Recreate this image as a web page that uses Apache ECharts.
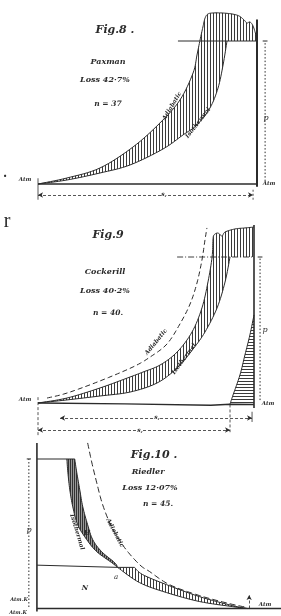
<!DOCTYPE html>
<html><head><meta charset="utf-8">
<script src="https://cdn.jsdelivr.net/npm/echarts@6/dist/echarts.min.js"></script>
<style>html,body{margin:0;padding:0;background:#fff}#c{width:281px;height:616px}</style>
</head><body><div id="c"></div>
<script>
// Units: x = % of piston stroke, y = % of delivery pressure p (0 = atmosphere)

// ---- Fig. 8  Paxman ----
const fig8Adiabatic  = [[0,0],[13.2,4.2],[28.3,11.2],[43.4,25.9],[55.7,42.7],[64.8,58.7],[70.8,77.6],[72.6,90.2],[74.0,100.7],[75.3,109.8],[76.3,116.1]];
const fig8Delivery   = [[77.6,118.9],[79.9,119.6],[84.0,119.6],[88.6,118.9],[91.8,117.5],[94.1,114.7],[95.4,112.6],[96.8,113.3],[98.2,110.5],[99.5,104.2],[100,100]];
const fig8Isothermal = [[0,0],[13.2,2.8],[28.3,7.7],[42.0,13.3],[57.1,24.5],[66.2,34.3],[72.6,41.3],[78.5,53.1],[82.2,67.1],[84.5,83.2],[86.3,100]];

// ---- Fig. 9  Cockerill ----
const fig9Actual     = [[0,0],[13.4,3.4],[28.7,10.3],[42.6,17.8],[48.6,21.2],[56.5,26.0],[64.4,34.9],[71.3,48.6],[75.9,65.1],[78.7,82.9],[80.6,100],[81.0,111.6],[81.5,115.1]];
const fig9Delivery   = [[83.3,116.4],[85.2,114.4],[86.6,117.1],[91.2,119.2],[95.8,119.9],[100,120.5]];
const fig9Isothermal = [[0,0],[13.4,2.1],[28.7,4.8],[42.6,7.5],[55.1,13.7],[64.4,24.0],[71.8,37.0],[77.3,48.6],[82.9,65.1],[86.6,82.9],[88.9,100]];
const fig9Adiabatic  = [[4.2,3.4],[13.4,6.8],[28.7,15.1],[44.0,24.7],[51.9,31.5],[59.7,40.4],[65.7,54.1],[70.4,67.8],[73.6,82.2],[75.9,97.9],[77.3,111.6],[78.2,119.9]];
const fig9Expansion  = [[88.9,-0.7],[90.3,5.5],[93.5,19.2],[95.8,32.9],[98.1,46.6],[100,60.3]];
const fig9Base       = [[0,0],[40,-0.6],[80,-1.5],[88.9,-0.9],[100,-1]];

// ---- Fig. 10  Riedler (two-stage) ----
const fig10IsothermalH = [[14.1,100],[14.6,90.7],[15.5,79.3],[16.9,68],[19.2,56],[23.5,46],[28.2,38],[35.2,30.7],[38.0,27.5]];
const fig10IsothermalN = [[38.0,27.5],[48.4,17.3],[61.0,10.7],[76.5,4.7],[92.0,1.3],[99.1,0]];
const fig10ActualH     = [[17.8,100],[18.8,90.7],[20.2,79.3],[21.6,68],[23.9,56],[26.3,46],[30.5,38],[36.6,30.7],[38.0,27.5]];
const fig10ActualN     = [[46.0,27.5],[49.8,22.7],[61.0,16],[76.5,8],[92.0,2],[99.1,0]];
const fig10Adiabatic   = [[23.9,110.7],[25.8,98],[28.2,84],[31,69.3],[35.2,54.7],[41.3,40.7],[48.4,29.3],[53.1,24.7],[62.4,16],[76.5,8.7],[90.6,3.3],[99.1,0.7]];
const fig10Intercool   = [[0,29],[38,27.5],[46,27.5]];

const INK = '#2b2b2b';

function hatchCanvas(dir, gap, ink, bg){
  const c = document.createElement('canvas'); c.width = gap; c.height = gap;
  const x = c.getContext('2d');
  if (bg){ x.fillStyle = bg; x.fillRect(0,0,gap,gap); }
  x.fillStyle = ink;
  if (dir === 'v') x.fillRect(0,0,1,gap); else x.fillRect(0,0,gap,1);
  return c;
}
const vHatch = {image: hatchCanvas('v',3,'#3a3a3a',null), repeat:'repeat'};
const hHatch = {image: hatchCanvas('h',3,'#3a3a3a',null), repeat:'repeat'};
const darkHatch = {image: hatchCanvas('v',2,'#333','#999'), repeat:'repeat'};

// Catmull-Rom smoothing of already-projected pixel points (drawing only)
function smoothPts(P, n){
  if (P.length < 3) return P;
  const out = [];
  for (let i = 0; i < P.length - 1; i++){
    const p0 = P[i-1] || P[i], p1 = P[i], p2 = P[i+1], p3 = P[i+2] || P[i+1];
    for (let t = 0; t < n; t++){
      const s = t/n, s2 = s*s, s3 = s2*s;
      out.push([0,1].map(k => 0.5*((2*p1[k]) + (-p0[k]+p2[k])*s + (2*p0[k]-5*p1[k]+4*p2[k]-p3[k])*s2 + (-p0[k]+3*p1[k]-3*p2[k]+p3[k])*s3)));
    }
  }
  out.push(P[P.length-1]);
  return out;
}

const series = [];
const fillEl = (pts, fill) => ({type:'polygon', shape:{points:pts}, style:{fill:fill, stroke:'none'}, z2:1});
const strokeEl = (pts, w, dash) => ({type:'polyline', shape:{points:pts}, style:{fill:null, stroke:INK, lineWidth:w||1, lineDash:dash||null}, z2:5});
function shapeSeries(g, build){
  series.push({type:'custom', xAxisIndex:g, yAxisIndex:g, data:[[0,0]], silent:true, z:2, clip:false,
    renderItem:(p, api) => {
      const C = d => api.coord(d);
      const S = pts => smoothPts(pts.map(C), 8);
      return {type:'group', children: build(S, C)};
    }});
}
function line(g, pts, width, type){
  series.push({type:'line', xAxisIndex:g, yAxisIndex:g, data:pts, symbol:'none', silent:true, z:3, clip:false,
    lineStyle:{color:INK, width:width||1, type:type||'solid'}});
}
function dim(g, from, to, syms){
  series.push({type:'line', xAxisIndex:g, yAxisIndex:g, data:[], silent:true, z:3,
    markLine:{silent:true, animation:false, symbol:syms||['arrow','arrow'], symbolSize:[4,5], label:{show:false},
      lineStyle:{color:INK, width:0.8, type:[3,2]}, data:[[{coord:from},{coord:to}]]}});
}

// Fig 8
shapeSeries(0, (S) => {
  const up = S(fig8Adiabatic.concat(fig8Delivery)), lo = S(fig8Isothermal);
  return [fillEl(up.concat(lo.slice().reverse()), vHatch), strokeEl(up, 1), strokeEl(lo, 1)];
});
line(0, [[63.9,100],[100,100]], 1);
line(0, [[100,-2],[100,115]], 2);
line(0, [[0,0],[100,0]], 1.6);
line(0, [[0,-11],[0,4]], 0.8);
line(0, [[98.2,-4],[98.2,-11]], 0.8, [2,2]);
dim(0, [0,-7.7], [98.2,-7.7]);
line(0, [[103.7,2],[103.7,100]], 1, [1.5,2]);
line(0, [[102.6,100],[104.8,100]], 1);

// Fig 9
shapeSeries(1, (S, C) => {
  const up = S(fig9Actual.concat(fig9Delivery)), lo = S(fig9Isothermal), ex = S(fig9Expansion);
  return [
    fillEl(up.concat([C([100,100])], lo.slice().reverse()), vHatch),
    fillEl(ex.concat([C([100,-1])]), hHatch),
    strokeEl(up, 1), strokeEl(lo, 1), strokeEl(ex, 1),
    strokeEl(S(fig9Adiabatic), 1, [5,3])
  ];
});
line(1, [[64.4,100],[100,100]], 0.9, [6,2,1,2]);
line(1, [[100,-3.4],[100,121.9]], 1.6);
line(1, fig9Base, 1.4);
line(1, [[0,-22],[0,4]], 0.8, [3,2]);
line(1, [[88.9,-1],[88.9,-20]], 0.8, [3,2]);
line(1, [[99.1,-6],[99.1,-13]], 0.8);
dim(1, [10.2,-10.3], [99.1,-10.3]);
dim(1, [0,-18.5], [88.9,-18.5]);
line(1, [[102.8,2],[102.8,100]], 1, [1.5,2]);
line(1, [[101.7,100],[103.9,100]], 1);

// Fig 10
shapeSeries(2, (S) => {
  const isoH = S(fig10IsothermalH), actH = S(fig10ActualH), isoN = S(fig10IsothermalN), actN = S(fig10ActualN);
  return [
    fillEl(isoH.concat(actH.slice().reverse()), darkHatch),
    fillEl([isoN[0]].concat(actN, isoN.slice().reverse()), vHatch),
    strokeEl(isoH, 1), strokeEl(isoN, 1), strokeEl(actH, 1), strokeEl(actN, 1),
    strokeEl(S(fig10Adiabatic), 1, [6,3])
  ];
});
line(2, fig10Intercool, 1);
line(2, [[0,100],[17.8,100]], 1.1);
line(2, [[0,-2],[0,110.7]], 1.6);
line(2, [[0,0],[115,0]], 1.3);
line(2, [[-3.8,1],[-3.8,100]], 1, [1.5,2]);
line(2, [[-4.8,100],[-2.8,100]], 1);
dim(2, [100,0], [100,9], ['none','arrow']);

function txt(s, x, y, size, opt){
  opt = opt || {};
  return {type:'text', x:x, y:y, rotation:(opt.rot||0)*Math.PI/180, silent:true, z:10,
    style:{text:s, x:0, y:0,
      font:(opt.st||'italic') + ' ' + (opt.w||'bold') + ' ' + size + 'px ' + (opt.fam||'"DejaVu Serif"'),
      fill:opt.fill||INK, align:'center', verticalAlign:'middle', textAlign:'center', textVerticalAlign:'middle',
      backgroundColor:opt.bg||null}};
}
const texts = [
  // stray fragments from the neighbouring page
  txt('.', 5, 174, 12, {st:'normal'}),
  txt('r', 7, 222, 20, {st:'normal', w:'normal', fam:'"Liberation Serif"'}),
  // Fig 8
  txt('Fig.8 .', 115, 30, 11),
  txt('Paxman', 108, 62, 8),
  txt('Loss 42·7%', 105, 80, 8),
  txt('n = 37', 108, 104, 7.5),
  txt('Adiabatic', 172, 106, 6, {rot:59}),
  txt('Isothermal', 198, 123, 6, {rot:52}),
  txt('p', 266, 118, 8, {w:'normal'}),
  txt('Atm', 25, 180, 5.5),
  txt('Atm', 269, 184, 5.5),
  txt('s,', 164, 194, 6, {bg:'#fff'}),
  // Fig 9
  txt('Fig.9', 108, 235, 11),
  txt('Cockerill', 105, 272, 8),
  txt('Loss 40·2%', 105, 291, 8),
  txt('n = 40.', 108, 313, 7.5),
  txt('Adiabatic', 156, 342, 6, {rot:51}),
  txt('Isothermal', 184, 359, 6, {rot:54}),
  txt('p', 265, 330, 8, {w:'normal'}),
  txt('Atm', 25, 400, 5.5),
  txt('Atm', 268, 404, 5.5),
  txt('s,', 157, 417, 6, {bg:'#fff'}),
  txt('s,', 140, 430, 6, {bg:'#fff'}),
  // Fig 10
  txt('Fig.10 .', 154, 455, 11),
  txt('Riedler', 148, 472, 8),
  txt('Loss 12·07%', 150, 488, 8),
  txt('n = 45.', 158, 504, 7.5),
  txt('Isothermal', 77, 532, 6, {rot:-73}),
  txt('Adiabatic', 115, 533, 6, {rot:-62}),
  txt('H', 87, 533, 7),
  txt('N', 85, 588, 7),
  txt('a', 116, 577, 7, {w:'normal'}),
  txt('p', 29, 530, 8, {w:'normal'}),
  txt('Atm.K', 19, 600, 5),
  txt('Atm.K', 18, 613, 5),
  txt('Atm', 265, 605, 5.5)
];

const ax = (g, min, max) => ({gridIndex:g, type:'value', min:min, max:max, show:false, splitLine:{show:false}});
const chart = echarts.init(document.getElementById('c'), null, {renderer:'canvas'});
chart.setOption({
  animation:false,
  backgroundColor:'#fff',
  grid:[
    {left:16.1, top:12.4, width:262.8, height:185.9},
    {left:16.4, top:220.5, width:259.2, height:219},
    {left:15.7, top:441, width:266.25, height:175.5}
  ],
  xAxis:[ax(0,-10,110), ax(1,-10,110), ax(2,-10,115)],
  yAxis:[ax(0,-10,120), ax(1,-25,125), ax(2,-5,112)],
  series:series,
  graphic:texts
});
</script></body></html>
